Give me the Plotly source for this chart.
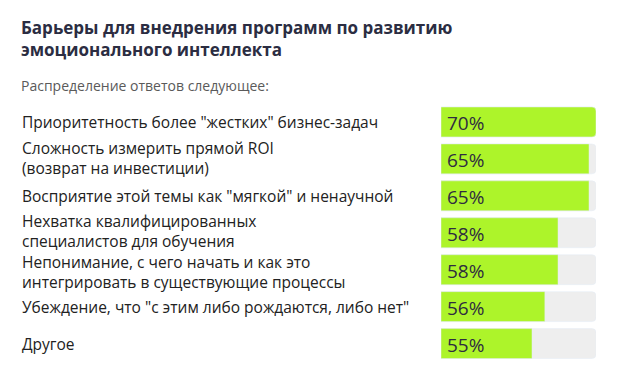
import plotly.graph_objects as go

categories = [
    "Приоритетность более \"жестких\" бизнес-задач",
    "Сложность измерить прямой ROI<br>(возврат на инвестиции)",
    "Восприятие этой темы как \"мягкой\" и ненаучной",
    "Нехватка квалифицированных<br>специалистов для обучения",
    "Непонимание, с чего начать и как это<br>интегрировать в существующие процессы",
    "Убеждение, что \"с этим либо рождаются, либо нет\"",
    "Другое",
]
values = [70, 65, 65, 58, 58, 56, 55]
# visible fill of each bar as share of its track
bar_fill = [100, 95.5, 95.5, 75.5, 75.5, 67, 58.7]
track = [100] * len(categories)

title_lines = ["Барьеры для внедрения программ по развитию", "эмоционального интеллекта"]
subtitle = "Распределение ответов следующее:"

OFF = 8  # page body margin
W, H = 620 - OFF, 369 - OFF
FONT = "Open Sans"
# small vertical nudges so the stacked two-line labels do not collide
label_shift = [0, 1, 0, 2, -2, 0, 0]


def px(x):
    return (x - OFF) / W


def py(y):
    return 1 - (y - OFF) / H


fig = go.Figure()
fig.add_trace(go.Bar(y=categories, x=track, orientation="h", marker_color="#eeeeee",
                     hoverinfo="skip", showlegend=False))
fig.add_trace(go.Bar(y=categories, x=bar_fill, orientation="h", marker_color="#adf42a",
                     showlegend=False))

annotations = []
for c, v, s in zip(categories, values, label_shift):
    annotations.append(dict(x=0, y=c, xref="x", yref="y", text=f"{v}%", showarrow=False,
                            xanchor="left", xshift=4, yshift=-1,
                            font=dict(family=FONT, size=19, color="#2f2c40")))
    annotations.append(dict(x=px(20), y=c, xref="paper", yref="y", text=c, showarrow=False,
                            xanchor="left", align="left", yshift=s,
                            font=dict(family=FONT, size=15.5, color="#222222")))

annotations.append(dict(x=px(19), y=py(39), xref="paper", yref="paper",
                        text="<br>".join(title_lines), showarrow=False, xanchor="left",
                        yanchor="middle", align="left",
                        font=dict(family=FONT, size=17, color="#2b2d42", weight="bold")))
annotations.append(dict(x=px(19), y=py(86), xref="paper", yref="paper",
                        text=subtitle, showarrow=False, xanchor="left", yanchor="middle",
                        align="left", font=dict(family=FONT, size=14, color="#5a5a5a")))

fig.update_layout(
    width=W, height=H,
    margin=dict(l=0, r=0, t=0, b=0),
    paper_bgcolor="white", plot_bgcolor="white",
    barmode="overlay", bargap=0.19, barcornerradius=4,
    xaxis=dict(domain=[px(441), px(596)], range=[0, 100], visible=False, fixedrange=True),
    yaxis=dict(domain=[py(362), py(103.5)], autorange="reversed", visible=False,
               fixedrange=True),
    annotations=annotations,
)

fig.write_html("out.html", config={"displayModeBar": False})
